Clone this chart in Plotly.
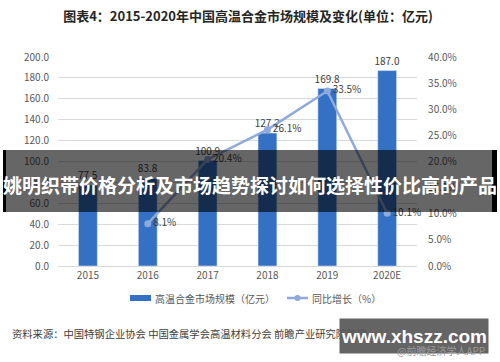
import plotly.graph_objects as go
from plotly.subplots import make_subplots

years = ["2015", "2016", "2017", "2018", "2019", "2020E"]
market_size = [77.5, 83.8, 100.9, 127.2, 169.8, 187.0]
growth_years = ["2016", "2017", "2018", "2019", "2020E"]
growth_pct = [8.1, 20.4, 26.1, 33.5, 10.1]

title_text = "<b>图表4：2015-2020年中国高温合金市场规模及变化(单位：亿元)</b>"
bar_name = "高温合金市场规模（亿元）"
line_name = "同比增长（%）"
source_text = "资料来源：中国特钢企业协会 中国金属学会高温材料分会 前瞻产业研究院整理"
banner_text = "<b>姚明织带价格分析及市场趋势探讨如何选择性价比高的产品</b>"
wm_text = "<b>www.xhszz.com</b>"
wm_sub = "@前瞻经济学人APP"

W, H = 500, 362
L, R, T, B = 58, 440, 57, 266  # plot area pixels

def px(x):
    return (x - L) / (R - L)

def py(y):
    return (B - y) / (B - T)

FONT = "Microsoft YaHei, Noto Sans CJK SC, sans-serif"
BAR_C = "#3471C4"
LINE_C = "#8EA9DB"
TXT_C = "#595959"

fig = make_subplots(specs=[[{"secondary_y": True}]])
fig.add_trace(go.Bar(
    x=years, y=market_size, name=bar_name, marker_color=BAR_C,
    texttemplate="%{y:.1f}", textposition="outside", constraintext="none",
    textfont=dict(size=10, color="#404040", family=FONT),
    cliponaxis=False, showlegend=False,
), secondary_y=False)
fig.add_trace(go.Scatter(
    x=growth_years, y=growth_pct, name=line_name, mode="lines+markers+text",
    line=dict(color=LINE_C, width=2.5), marker=dict(color=LINE_C, size=7),
    text=[f"{v:.1f}%" for v in growth_pct], textposition="middle right",
    textfont=dict(size=10, color="#404040", family=FONT),
    cliponaxis=False, showlegend=False,
), secondary_y=True)

fig.update_layout(
    width=W, height=H,
    margin=dict(l=L, r=W - R, t=T, b=H - B),
    paper_bgcolor="white", plot_bgcolor="white",
    bargap=0.685,
    font=dict(family=FONT, color=TXT_C, size=10),
    showlegend=False,
    title=dict(text=title_text, x=0.496, xanchor="center", y=1 - 16 / H, yanchor="middle",
               font=dict(size=13, color="#262626", family=FONT)),
)
fig.update_xaxes(type="category", showgrid=False, showline=True, linecolor="#D9D9D9",
                 ticks="", tickfont=dict(size=10, color=TXT_C))
fig.update_yaxes(range=[0, 200], dtick=20, tickformat=".1f", showgrid=True,
                 gridcolor="#D9D9D9", zeroline=False, showline=False, ticks="",
                 tickfont=dict(size=10, color=TXT_C), ticklabelstandoff=8,
                 secondary_y=False)
fig.update_yaxes(range=[0, 40], dtick=5, tickformat=".1f", ticksuffix="%", showgrid=False,
                 zeroline=False, showline=False, ticks="",
                 tickfont=dict(size=10, color=TXT_C), ticklabelstandoff=10,
                 secondary_y=True)

shapes = []
annotations = []

# manual legend
shapes.append(dict(type="rect", xref="paper", yref="paper",
                   x0=px(130), x1=px(151), y0=py(301), y1=py(295),
                   fillcolor=BAR_C, line=dict(width=0)))
annotations.append(dict(xref="paper", yref="paper", x=px(153), y=py(298),
                        xanchor="left", yanchor="middle", showarrow=False,
                        text=bar_name, font=dict(size=10, color=TXT_C, family=FONT)))
shapes.append(dict(type="line", xref="paper", yref="paper",
                   x0=px(287), x1=px(308), y0=py(298), y1=py(298),
                   line=dict(color=LINE_C, width=2.5)))
shapes.append(dict(type="circle", xref="paper", yref="paper",
                   x0=px(294.5), x1=px(300.5), y0=py(301), y1=py(295),
                   fillcolor=LINE_C, line=dict(width=0)))
annotations.append(dict(xref="paper", yref="paper", x=px(310), y=py(298),
                        xanchor="left", yanchor="middle", showarrow=False,
                        text=line_name, font=dict(size=10, color=TXT_C, family=FONT)))

# source
annotations.append(dict(xref="paper", yref="paper", x=px(10), y=py(333),
                        xanchor="left", yanchor="middle", showarrow=False,
                        text=source_text, font=dict(size=10.3, color="#404040", family=FONT)))

# banner overlay
shapes.append(dict(type="rect", xref="paper", yref="paper", layer="above",
                   x0=px(6), x1=px(492), y0=py(212), y1=py(150),
                   fillcolor="rgba(0,0,0,0.6)", line=dict(width=0)))
shapes.append(dict(type="rect", xref="paper", yref="paper", layer="above",
                   x0=px(3), x1=px(6), y0=py(212), y1=py(150),
                   fillcolor="black", line=dict(width=0)))
shapes.append(dict(type="rect", xref="paper", yref="paper", layer="above",
                   x0=px(492), x1=px(497), y0=py(212), y1=py(150),
                   fillcolor="black", line=dict(width=0)))
annotations.append(dict(xref="paper", yref="paper", x=px(250), y=py(184),
                        xanchor="center", yanchor="middle", showarrow=False,
                        text=banner_text,
                        font=dict(size=19, color="white", family="Noto Sans CJK SC")))

# website watermark box
annotations.append(dict(xref="paper", yref="paper", x=px(414), y=py(336),
                        xanchor="center", yanchor="middle", showarrow=False,
                        width=148, height=34, align="center", valign="middle",
                        bgcolor="rgba(88,88,88,0.93)", borderpad=0,
                        text=wm_text, font=dict(size=19, color="white", family="Liberation Sans")))
annotations.append(dict(xref="paper", yref="paper", x=px(487), y=py(350),
                        xanchor="right", yanchor="middle", showarrow=False,
                        text=wm_sub, font=dict(size=10, color="#9a9a9a", family=FONT)))

fig.update_layout(shapes=shapes, annotations=annotations)
fig.write_html("out.html", config={"displayModeBar": False},
               post_script="document.body.style.margin='0px';document.body.style.overflow='hidden';")
